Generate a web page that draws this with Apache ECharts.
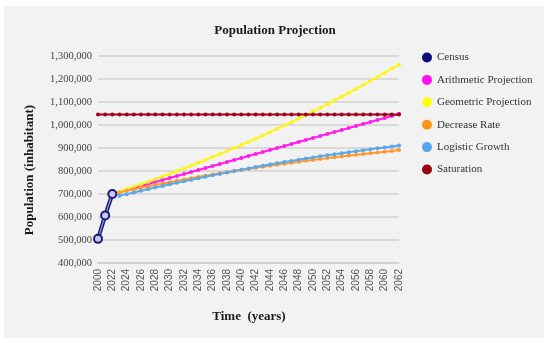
<!DOCTYPE html>
<html>
<head>
<meta charset="utf-8">
<script src="https://cdn.jsdelivr.net/npm/echarts@6/dist/echarts.min.js"></script>
<style>
html,body{margin:0;padding:0;background:#ffffff;}
#chart{width:550px;height:343px;}
</style>
</head>
<body>
<div id="chart"></div>
<script>
var years = ['2000','2010','2022','2023','2024','2025','2026','2027','2028','2029','2030','2031','2032','2033','2034','2035','2036','2037','2038','2039','2040','2041','2042','2043','2044','2045','2046','2047','2048','2049','2050','2051','2052','2053','2054','2055','2056','2057','2058','2059','2060','2061','2062'];
var census = [505000, 607000, 700000];
var arithmetic = [708700,717400,726100,734800,743500,752200,760900,769600,778300,787000,795700,804400,813100,821800,830500,839200,847900,856600,865300,874000,882700,891400,900100,908800,917500,926200,934900,943600,952300,961000,969700,978400,987100,995800,1004500,1013200,1021900,1030600,1039300,1048500];
var geometric = [710400,721000,731700,742600,753700,764900,776300,787800,799500,811400,823500,835800,848200,860800,873600,886600,899800,913200,926800,940600,954600,968800,983200,997800,1012700,1027700,1043000,1058600,1074300,1090300,1106500,1123000,1139700,1156700,1173900,1191300,1209100,1227000,1245300,1262000];
var decreaseRate = [706900,713600,720200,726700,733000,739200,745300,751300,757100,762800,768400,773900,779300,784600,789800,794900,799800,804700,809500,814200,818700,823200,827600,831900,836200,840300,844300,848300,852200,856000,859800,863400,867000,870500,874000,877400,880700,883900,887100,891000];
var logistic = [692000,699400,706900,713900,721100,728200,735200,742100,748900,755600,762200,768700,775100,781300,787500,793600,799700,805600,811400,817100,822700,828200,833500,838900,844000,849200,854100,859000,863800,868500,873200,877600,882000,886200,890400,894500,898500,902400,906200,911000];
var saturationValue = 1046000;
var seriesNames = ['Census','Arithmetic Projection','Geometric Projection','Decrease Rate','Logistic Growth','Saturation'];
var legendColors = ['#0c0c7c','#ff10ee','#ffff10','#ff9614','#55a5ee','#960010'];
var yTicks = {min: 400000, max: 1300000, step: 100000};

var chart = echarts.init(document.getElementById('chart'), null, {renderer: 'canvas'});
var serif = "'Liberation Serif', 'DejaVu Serif', serif";

function pad(vals, n) { var a = []; for (var i = 0; i < n; i++) a.push(null); return a.concat(vals); }
var satData = years.map(function(){ return saturationValue; });

function projSeries(name, color, data) {
  return {
    name: name, type: 'line', data: pad(data, 3),
    symbol: 'circle', symbolSize: 4, showSymbol: true, showAllSymbol: true,
    lineStyle: {color: color, width: 2},
    itemStyle: {color: color},
    z: 3
  };
}

var option = {
  backgroundColor: '#ffffff',
  animation: false,
  graphic: [
    {type: 'rect', shape: {x: 4, y: 6, width: 540, height: 332}, style: {fill: '#f2f2f2'}, z: -10},
    {type: 'text', left: 'center', top: 24, style: {text: 'Population Projection', font: "bold 13px " + serif, fill: '#1a1a1a'}},
    {type: 'text', x: 30, y: 170, rotation: Math.PI / 2, style: {text: 'Population (inhabitant)', font: "bold 13px " + serif, fill: '#1a1a1a', textAlign: 'center', textVerticalAlign: 'middle'}},
    {type: 'text', x: 249, y: 317, style: {text: 'Time  (years)', font: "bold 13px " + serif, fill: '#1a1a1a', textAlign: 'center', textVerticalAlign: 'middle'}}
  ],
  legend: {
    data: seriesNames.map(function(n, i){ return {name: n, itemStyle: {color: legendColors[i], borderWidth: 0}}; }),
    orient: 'vertical', left: 417, top: 47,
    icon: 'circle', itemWidth: 10, itemHeight: 10, itemGap: 11.4,
    textStyle: {fontFamily: serif, fontSize: 11, color: '#333333'}
  },
  grid: {left: 98, right: 151, top: 56, bottom: 80},
  xAxis: {
    type: 'category', data: years, boundaryGap: false,
    axisLine: {show: true, lineStyle: {color: '#d0d0d0', width: 1.5}},
    axisTick: {show: false},
    axisLabel: {interval: 1, rotate: 90, fontSize: 10, color: '#555555', fontFamily: "'Liberation Sans', Arial, sans-serif", margin: 6}
  },
  yAxis: {
    type: 'value', min: yTicks.min, max: yTicks.max, interval: yTicks.step,
    axisLine: {show: false}, axisTick: {show: false},
    splitLine: {lineStyle: {color: '#d0d0d0', width: 1.5}},
    axisLabel: {fontSize: 10.5, color: '#444444', fontFamily: serif, margin: 6,
      formatter: function(v){ return v.toLocaleString('en-US'); }}
  },
  series: [
    {
      name: 'Census', type: 'line', data: census,
      symbol: 'circle', symbolSize: 8, showAllSymbol: true,
      lineStyle: {color: '#1b1b7e', width: 4},
      itemStyle: {color: '#c9c9f0', borderColor: '#1b1b7e', borderWidth: 2},
      z: 6
    },
    {
      name: 'CensusInner', type: 'line', data: census, silent: true,
      symbol: 'none', lineStyle: {color: '#9a9ad8', width: 1.2}, z: 6
    },
    projSeries('Arithmetic Projection', '#ff1ee6', arithmetic),
    projSeries('Geometric Projection', '#fbf51a', geometric),
    projSeries('Decrease Rate', '#ff9a2e', decreaseRate),
    projSeries('Logistic Growth', '#5aa8e8', logistic),
    {
      name: 'Saturation', type: 'line', data: satData,
      symbol: 'circle', symbolSize: 4, showAllSymbol: true,
      lineStyle: {color: '#a3001b', width: 2},
      itemStyle: {color: '#a3001b'},
      z: 4
    }
  ]
};
chart.setOption(option);
</script>
</body>
</html>
